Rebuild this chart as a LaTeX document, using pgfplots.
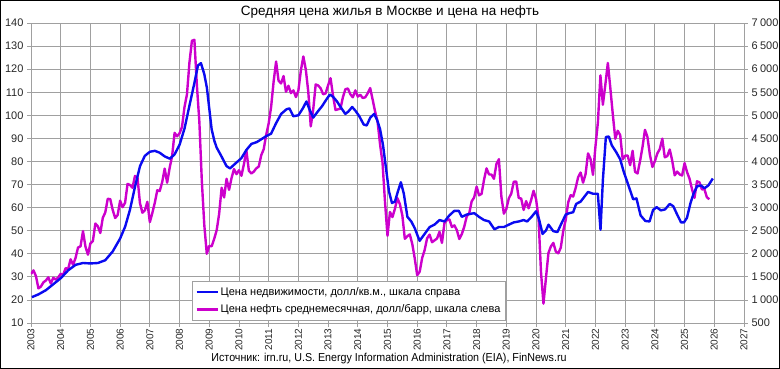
\documentclass[border=0pt]{standalone}
\usepackage{fontspec}
\setmainfont{Liberation Sans}
\usepackage{pgfplots}
\usepackage{pgfplotstable}
\pgfplotsset{compat=1.18}
\definecolor{oil}{RGB}{204,0,204}
\definecolor{flat}{RGB}{10,10,240}
\definecolor{gmaj}{RGB}{160,160,160}
\definecolor{gmin}{RGB}{222,222,222}

% Brent, USD/bbl, monthly
\pgfplotstableread{
x v
2003.000 31.2
2003.083 32.8
2003.167 30.3
2003.250 25.0
2003.333 25.8
2003.417 27.6
2003.500 28.4
2003.583 29.8
2003.667 27.1
2003.750 29.6
2003.833 28.8
2003.917 29.8
2004.000 31.3
2004.083 30.9
2004.167 33.8
2004.250 33.4
2004.333 37.6
2004.417 35.2
2004.500 38.2
2004.583 42.7
2004.667 43.2
2004.750 49.8
2004.833 43.1
2004.917 39.6
2005.000 44.5
2005.083 45.5
2005.167 53.1
2005.250 51.9
2005.333 49.0
2005.417 55.6
2005.500 57.9
2005.583 63.8
2005.667 63.7
2005.750 59.0
2005.833 55.5
2005.917 56.8
2006.000 63.0
2006.083 60.2
2006.167 62.1
2006.250 70.3
2006.333 69.8
2006.417 68.6
2006.500 73.7
2006.583 73.2
2006.667 62.0
2006.750 57.8
2006.833 58.8
2006.917 62.5
2007.000 53.7
2007.083 57.6
2007.167 62.1
2007.250 67.5
2007.333 67.2
2007.417 71.1
2007.500 76.9
2007.583 70.8
2007.667 77.2
2007.750 82.3
2007.833 92.4
2007.917 90.9
2008.000 92.2
2008.083 95.0
2008.167 103.6
2008.250 109.1
2008.333 122.8
2008.417 132.3
2008.500 132.7
2008.583 113.2
2008.667 97.2
2008.750 71.6
2008.833 52.5
2008.917 40.0
2009.000 43.4
2009.083 43.3
2009.167 46.5
2009.250 50.2
2009.333 57.3
2009.417 68.6
2009.500 64.4
2009.583 72.5
2009.667 67.7
2009.750 72.8
2009.833 76.7
2009.917 74.5
2010.000 76.2
2010.083 73.8
2010.167 78.8
2010.250 84.8
2010.333 76.0
2010.417 74.8
2010.500 75.6
2010.583 77.0
2010.667 77.8
2010.750 82.7
2010.833 85.3
2010.917 91.5
2011.000 96.5
2011.083 103.7
2011.167 114.6
2011.250 123.3
2011.333 115.0
2011.417 113.8
2011.500 117.0
2011.583 110.2
2011.667 112.8
2011.750 109.6
2011.833 110.8
2011.917 107.9
2012.000 110.7
2012.083 119.3
2012.167 125.5
2012.250 119.8
2012.333 110.3
2012.417 95.2
2012.500 102.6
2012.583 113.4
2012.667 112.9
2012.750 111.7
2012.833 109.1
2012.917 109.5
2013.000 113.0
2013.083 116.1
2013.167 108.5
2013.250 102.3
2013.333 102.6
2013.417 102.9
2013.500 107.9
2013.583 111.3
2013.667 111.6
2013.750 109.1
2013.833 107.8
2013.917 110.8
2014.000 108.1
2014.083 108.9
2014.167 107.5
2014.250 107.8
2014.333 109.5
2014.417 111.8
2014.500 106.8
2014.583 101.6
2014.667 97.1
2014.750 87.4
2014.833 79.4
2014.917 62.3
2015.000 47.8
2015.083 58.1
2015.167 55.9
2015.250 59.5
2015.333 64.1
2015.417 61.5
2015.500 56.6
2015.583 46.5
2015.667 47.6
2015.750 48.4
2015.833 44.3
2015.917 38.0
2016.000 30.7
2016.083 32.2
2016.167 38.2
2016.250 41.6
2016.333 46.7
2016.417 48.3
2016.500 45.0
2016.583 45.8
2016.667 46.6
2016.750 49.5
2016.833 44.7
2016.917 53.3
2017.000 54.6
2017.083 54.9
2017.167 51.6
2017.250 52.3
2017.333 50.3
2017.417 46.4
2017.500 48.5
2017.583 51.7
2017.667 56.2
2017.750 57.5
2017.833 62.7
2017.917 64.4
2018.000 69.1
2018.083 65.3
2018.167 66.0
2018.250 72.1
2018.333 77.0
2018.417 74.4
2018.500 74.3
2018.583 72.5
2018.667 78.9
2018.750 81.0
2018.833 64.8
2018.917 57.4
2019.000 59.4
2019.083 64.0
2019.167 66.1
2019.250 71.2
2019.333 71.3
2019.417 64.2
2019.500 63.9
2019.583 59.0
2019.667 62.8
2019.750 59.7
2019.833 63.2
2019.917 67.3
2020.000 63.7
2020.083 55.7
2020.167 32.0
2020.250 18.4
2020.333 29.4
2020.417 40.3
2020.500 43.2
2020.583 44.7
2020.667 40.9
2020.750 40.2
2020.833 42.7
2020.917 50.0
2021.000 54.8
2021.083 62.3
2021.167 65.4
2021.250 64.8
2021.333 68.5
2021.417 73.2
2021.500 75.2
2021.583 70.8
2021.667 74.5
2021.750 83.5
2021.833 81.1
2021.917 74.2
2022.000 86.5
2022.083 97.1
2022.167 117.3
2022.250 104.6
2022.333 113.3
2022.417 122.7
2022.500 111.9
2022.583 100.5
2022.667 89.8
2022.750 93.3
2022.833 91.4
2022.917 80.9
2023.000 82.5
2023.083 82.6
2023.167 78.4
2023.250 84.6
2023.333 75.5
2023.417 74.8
2023.500 80.1
2023.583 86.2
2023.667 93.7
2023.750 90.6
2023.833 82.9
2023.917 77.6
2024.000 80.1
2024.083 83.5
2024.167 85.4
2024.250 89.9
2024.333 81.8
2024.417 82.3
2024.500 85.2
2024.583 80.4
2024.667 74.0
2024.750 75.6
2024.833 74.4
2024.917 73.9
2025.000 79.3
2025.083 75.4
2025.167 72.5
2025.250 68.0
2025.333 64.2
2025.417 71.4
2025.500 71.0
2025.583 67.9
2025.667 68.0
2025.750 64.5
2025.833 63.6
}\oiltable

% Moscow housing, USD per sq.m
\pgfplotstableread{
x v
2003.03 1060
2003.25 1120
2003.50 1210
2003.75 1340
2004.00 1470
2004.25 1640
2004.50 1760
2004.75 1800
2005.00 1790
2005.25 1800
2005.50 1860
2005.75 2050
2006.00 2330
2006.17 2590
2006.33 2950
2006.50 3450
2006.67 3900
2006.83 4120
2007.00 4210
2007.17 4230
2007.33 4190
2007.50 4110
2007.67 4060
2007.83 4150
2008.00 4360
2008.17 4720
2008.33 5200
2008.50 5700
2008.62 6080
2008.72 6130
2008.83 5900
2008.92 5600
2009.00 5150
2009.08 4700
2009.17 4450
2009.25 4300
2009.42 4100
2009.58 3900
2009.70 3850
2009.87 3950
2010.08 4070
2010.25 4250
2010.42 4380
2010.60 4420
2010.75 4480
2010.92 4550
2011.08 4600
2011.25 4830
2011.42 5030
2011.60 5130
2011.70 5150
2011.83 4980
2012.00 5000
2012.15 5150
2012.27 5300
2012.38 5120
2012.50 4950
2012.65 5080
2012.80 5200
2012.95 5350
2013.06 5450
2013.17 5400
2013.30 5300
2013.42 5180
2013.58 5030
2013.68 5080
2013.81 5180
2013.92 5100
2014.05 4980
2014.20 4800
2014.30 4780
2014.42 4950
2014.55 5030
2014.65 4900
2014.75 4700
2014.85 4350
2014.95 3850
2015.05 3350
2015.15 3100
2015.25 3130
2015.35 3350
2015.45 3550
2015.55 3300
2015.67 2800
2015.80 2700
2015.92 2550
2016.08 2280
2016.25 2430
2016.42 2580
2016.58 2630
2016.75 2730
2016.92 2700
2017.08 2830
2017.25 2930
2017.40 2930
2017.50 2800
2017.67 2850
2017.92 2880
2018.08 2800
2018.25 2730
2018.42 2700
2018.60 2530
2018.75 2580
2018.92 2580
2019.08 2630
2019.25 2680
2019.42 2700
2019.58 2730
2019.70 2700
2019.85 2800
2020.00 2920
2020.10 2750
2020.22 2430
2020.33 2500
2020.42 2630
2020.58 2490
2020.72 2470
2020.85 2650
2021.00 2850
2021.12 2880
2021.25 2900
2021.35 3080
2021.50 3130
2021.62 3230
2021.75 3340
2021.92 3300
2022.08 3300
2022.17 2520
2022.25 3600
2022.35 4530
2022.45 4540
2022.55 4350
2022.70 4200
2022.83 4050
2022.95 3780
2023.10 3500
2023.27 3180
2023.38 3200
2023.52 2830
2023.68 2710
2023.82 2700
2023.94 2950
2024.06 3010
2024.20 2940
2024.34 2960
2024.50 3080
2024.62 3030
2024.75 2850
2024.88 2680
2024.98 2680
2025.08 2780
2025.20 3100
2025.30 3300
2025.42 3460
2025.55 3480
2025.67 3420
2025.80 3480
2025.95 3630
}\flattable

\begin{document}
\begin{tikzpicture}
\pgfplotsset{
  common/.style={
    width=713pt, height=300pt, scale only axis,
    xmin=2003, xmax=2027,
    /pgf/number format/assume math mode=true,
    tick label style={font=\fontsize{11}{12}\selectfont, text=black!85},
    tick align=outside, major tick length=4pt, minor tick length=0pt,
    tick style={gmaj, line width=0.8pt},
  }
}
\begin{axis}[common, name=ax,
  axis line style={gmaj, line width=0.8pt},
  xtick={2003,2004,...,2027}, minor x tick num=3,
  xtick pos=bottom, ytick pos=left,
  xticklabel style={rotate=90, anchor=east, font=\fontsize{10}{11}\selectfont, inner sep=1.5pt, /pgf/number format/1000 sep={}},
  ymin=10, ymax=140, ytick={10,20,...,140},
  grid=both,
  major grid style={gmaj, line width=0.8pt},
  minor grid style={gmin, line width=0.8pt},
]
\addplot[oil, line width=2.4pt, line join=round] table[x=x, y=v] {\oiltable};
\end{axis}
\begin{axis}[common,
  axis x line=none, axis y line*=right,
  axis line style={gmaj, line width=0.8pt},
  ymin=500, ymax=7000, ytick={500,1000,...,7000},
  yticklabel style={/pgf/number format/1000 sep={\kern0.22em}},
  legend style={at={(0.226,0.14)}, anchor=north west, draw=gmaj, fill=white,
    font=\fontsize{11}{13}\selectfont, row sep=4pt, inner xsep=3pt, inner ysep=4pt},
  legend cell align=left,
  legend image code/.code={\draw[#1, line width=2.4pt] (0pt,0pt) -- (21pt,0pt);},
]
\addplot[flat, line width=2.4pt, line join=round] table[x=x, y=v] {\flattable};
\addlegendentry{Цена недвижимости, долл/кв.м., шкала справа}
\addlegendimage{oil}
\addlegendentry{Цена нефть среднемесячная, долл/барр, шкала слева}
\end{axis}
\node[font=\fontsize{13.5}{15}\selectfont, anchor=center] at ([xshift=359pt, yshift=11pt]ax.north west) {Средняя цена жилья в Москве и цена на нефть};
\node[font=\fontsize{11.5}{13}\selectfont, anchor=center] at ([xshift=358pt, yshift=-36pt]ax.south west) {\scalebox{0.93}[1]{Источник: irn.ru, U.S. Energy Information Administration (EIA), FinNews.ru}};
\draw[black, line width=1pt] ([xshift=-30.5pt, yshift=-45.5pt]ax.south west) rectangle ([xshift=35.5pt, yshift=22.5pt]ax.north east);
\pgfresetboundingbox
\useasboundingbox ([xshift=-31pt, yshift=-46pt]ax.south west) rectangle ([xshift=36pt, yshift=23pt]ax.north east);
\end{tikzpicture}
\end{document}
